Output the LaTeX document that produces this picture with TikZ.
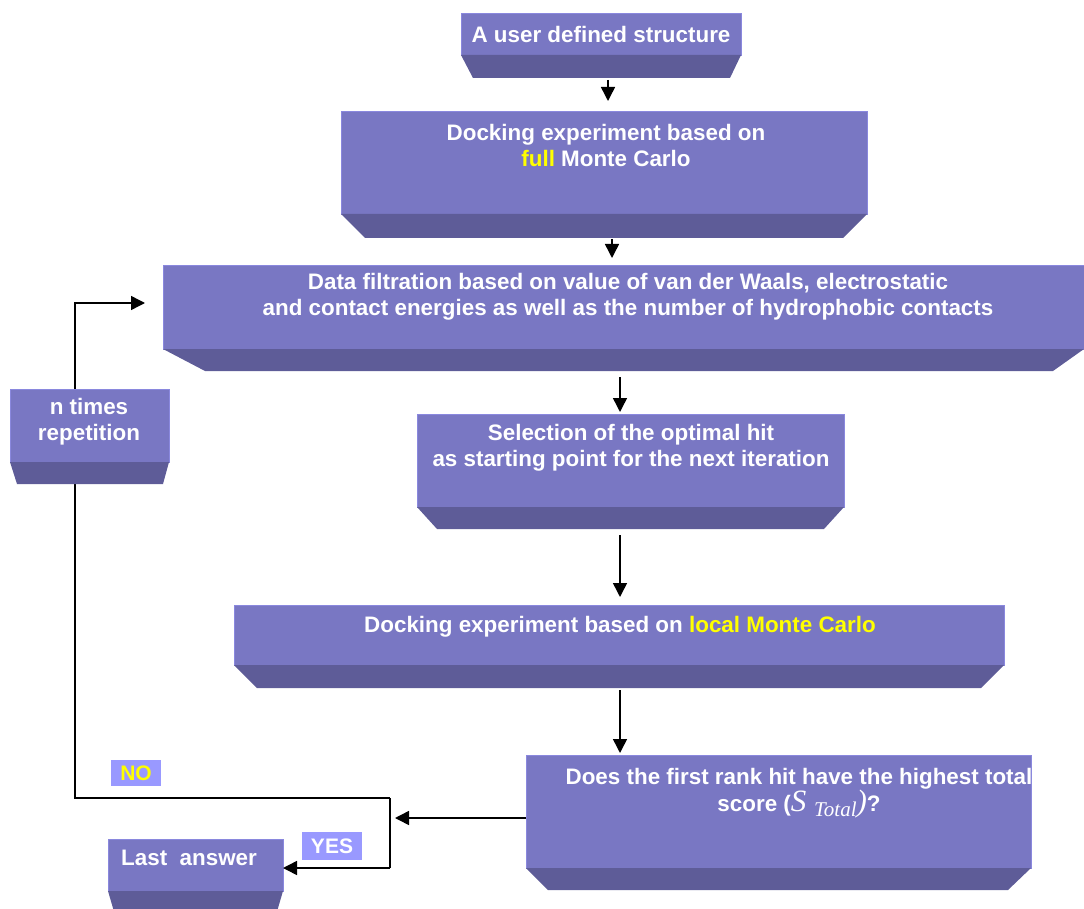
\documentclass[tikz,border=0pt]{standalone}
\usepackage{fontspec}
\setmainfont{Liberation Sans}
\newfontfamily\serifit{Liberation Serif}
\usetikzlibrary{arrows.meta,calc}
\definecolor{facec}{RGB}{121,119,195}
\definecolor{edgec}{RGB}{138,136,222}
\definecolor{bandc}{RGB}{94,92,152}
\definecolor{labc}{RGB}{153,153,255}
\definecolor{hl}{RGB}{255,255,0}
\newcommand\drawband[4]{\fill[bandc] (#1.south west) -- (#1.south east) -- ([xshift=-#4pt,yshift=-#2pt]#1.south east) -- ([xshift=#3pt,yshift=-#2pt]#1.south west) -- cycle;}
\tikzset{
  face/.style={rectangle, fill=facec, draw=edgec, line width=0.6pt, inner sep=0pt, outer sep=0pt, anchor=north west},
  txt/.style={text=white, align=center, inner sep=0pt, font=\fontsize{22.4}{26}\selectfont\bfseries},
  lab/.style={fill=labc, inner sep=0pt, font=\fontsize{21}{24}\selectfont\bfseries},
  conn/.style={draw=black, line width=1.5pt},
  arr/.style={conn, -{Triangle[length=14pt,width=14pt]}}
}
\begin{document}
\begin{tikzpicture}[x=1pt,y=-1pt]
\useasboundingbox (0,0) rectangle (1084,909);
% boxes (except b4, drawn after the loop line)
\node[face, minimum width=280pt, minimum height=42pt] (b1) at (461,13) {};
\drawband{b1}{23}{12}{11}
\node[face, minimum width=526pt, minimum height=103pt] (b2) at (341,111) {};
\drawband{b2}{24}{24}{24}
\node[face, minimum width=921pt, minimum height=84pt] (b3) at (163,265) {};
\drawband{b3}{22}{42}{31}
\node[face, minimum width=427pt, minimum height=93pt] (b5) at (417,414) {};
\drawband{b5}{22}{20}{20}
\node[face, minimum width=770pt, minimum height=60pt] (b6) at (234,605) {};
\drawband{b6}{23}{23}{23}
\node[face, minimum width=505pt, minimum height=113pt] (b7) at (526,755) {};
\drawband{b7}{22}{22}{23}
\node[face, minimum width=175pt, minimum height=52pt] (b8) at (108,839) {};
\drawband{b8}{24}{7}{7}
% loop line
\coordinate (j) at (390,818);
\coordinate (jtop) at (390,798);
\coordinate (jbot) at (390,868);
\coordinate (c1) at (75,798);
\coordinate (c2) at (75,303);
\draw[arr] (jtop) -- (c1) -- (c2) -- ([xshift=-18pt]b3.west |- c2);
\draw[conn] (jtop) -- (jbot);
\draw[arr] (jbot) -- (b8.east |- jbot);
\draw[arr] (b7.west |- j) -- ([xshift=5pt]j);
% b4
\node[face, minimum width=159pt, minimum height=73pt] (b4) at (10,389) {};
\drawband{b4}{22}{7}{6}
% vertical arrows
\draw[arr] ([xshift=7pt,yshift=-25pt]b1.south) -- ([xshift=4pt,yshift=10pt]b2.north);
\draw[arr] ([xshift=8pt,yshift=-25pt]b2.south) -- ([xshift=-11.5pt,yshift=7pt]b3.north);
\draw[arr] ([xshift=-3.5pt,yshift=-28pt]b3.south) -- ([xshift=-10.5pt,yshift=2pt]b5.north);
\draw[arr] ([xshift=-10.5pt,yshift=-28pt]b5.south) -- ([xshift=1pt,yshift=8pt]b6.north);
\draw[arr] ([xshift=1pt,yshift=-25pt]b6.south) -- ([xshift=-158.5pt,yshift=2pt]b7.north);
% texts
\node[txt] (t1) at (601,34) {A user defined structure};
\node[txt] (t2) at (606,145) {Docking experiment based on\\{\color{hl}full} Monte Carlo};
\node[txt] (t3) at (628,297) {Data filtration based on value of van der Waals, electrostatic\\and contact energies as well as the number of hydrophobic contacts};
\node[txt] (t4) at (89,422) {n times\\repetition};
\node[txt] (t5) at (631,448) {Selection of the optimal hit\\as starting point for the next iteration};
\node[txt] (t6) at (620,627) {Docking experiment based on {\color{hl}local Monte Carlo}};
\node[txt] (t7) at (799,793) {Does the first rank hit have the highest total\\score ({\serifit\itshape\mdseries\fontsize{31}{26}\selectfont S {\fontsize{21}{20}\selectfont\raisebox{-5pt}{Total}})}?};
\node[txt, anchor=west] (t8) at (121,858) {Last\ \ answer};
\node[lab, text=hl, minimum width=50pt, minimum height=26pt] (no) at (136,773) {NO};
\node[lab, text=white, minimum width=60pt, minimum height=28pt] (yes) at (332,846) {YES};
\end{tikzpicture}
\end{document}
